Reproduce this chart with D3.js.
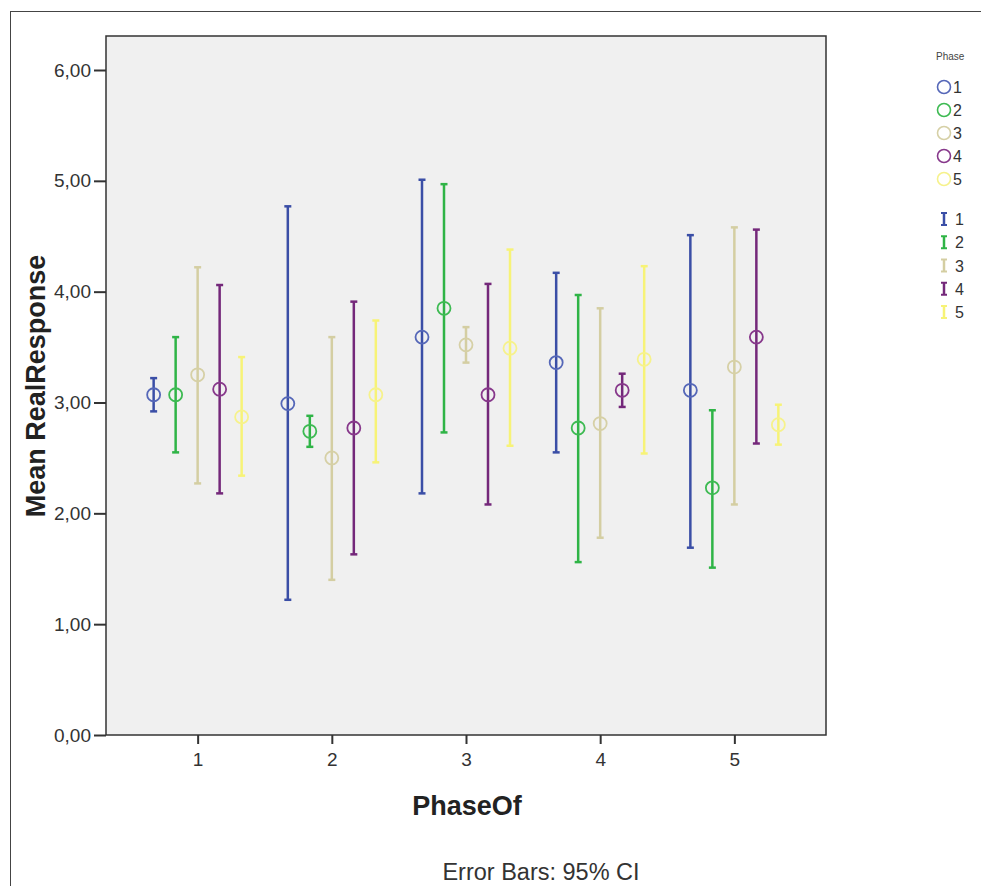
<!DOCTYPE html>
<html>
<head>
<meta charset="utf-8">
<script src="https://cdn.jsdelivr.net/npm/d3@7"></script>
<style>
  body { margin: 0; background: #fff; }
  svg { display: block; font-family: Arial, "Liberation Sans", sans-serif; }
</style>
</head>
<body>
<svg id="chart" width="981" height="886"></svg>
<script>
const categories = ["1", "2", "3", "4", "5"];
const seriesNames = ["1", "2", "3", "4", "5"];
const yTicks = [0, 1, 2, 3, 4, 5, 6];

// mean per series (rows) across categories PhaseOf 1..5 (columns)
const means1 = [3.07, 2.99, 3.59, 3.36, 3.11];
const means2 = [3.07, 2.74, 3.85, 2.77, 2.23];
const means3 = [3.25, 2.50, 3.52, 2.81, 3.32];
const means4 = [3.12, 2.77, 3.07, 3.11, 3.59];
const means5 = [2.87, 3.07, 3.49, 3.39, 2.80];

const upper1 = [3.22, 4.77, 5.01, 4.17, 4.51];
const upper2 = [3.59, 2.88, 4.97, 3.97, 2.93];
const upper3 = [4.22, 3.59, 3.68, 3.85, 4.58];
const upper4 = [4.06, 3.91, 4.07, 3.26, 4.56];
const upper5 = [3.41, 3.74, 4.38, 4.23, 2.98];

const lower1 = [2.92, 1.22, 2.18, 2.55, 1.69];
const lower2 = [2.55, 2.60, 2.73, 1.56, 1.51];
const lower3 = [2.27, 1.40, 3.36, 1.78, 2.08];
const lower4 = [2.18, 1.63, 2.08, 2.96, 2.63];
const lower5 = [2.34, 2.46, 2.61, 2.54, 2.62];

const meansAll = [means1, means2, means3, means4, means5];
const upperAll = [upper1, upper2, upper3, upper4, upper5];
const lowerAll = [lower1, lower2, lower3, lower4, lower5];

const barColors = ["#3a4ea6", "#2fb446", "#d4cea2", "#74287a", "#f7f377"];
const circleColors = ["#5567b8", "#3dba52", "#d6d0a6", "#87388b", "#f6f28c"];

const svg = d3.select("#chart");

// outer frame
svg.append("rect").attr("x", 10.5).attr("y", 11.5).attr("width", 1000).attr("height", 1000)
  .attr("fill", "none").attr("stroke", "#444").attr("stroke-width", 1);

const plot = { left: 106, top: 36, right: 826, bottom: 735 };

const x = d3.scalePoint().domain(categories).range([plot.left, plot.right]).padding(0.683);
const xInner = d3.scalePoint().domain(seriesNames).range([-44, 44]);
const y = d3.scaleLinear().domain([0, 6]).range([735, 70]);

svg.append("rect")
  .attr("x", plot.left).attr("y", plot.top)
  .attr("width", plot.right - plot.left).attr("height", plot.bottom - plot.top)
  .attr("fill", "#f0f0f0").attr("stroke", "#333").attr("stroke-width", 1.5);

// axes
const fmt = d => d3.format(".2f")(d).replace(".", ",");
const yAxis = svg.append("g").attr("transform", `translate(${plot.left},0)`)
  .call(d3.axisLeft(y).tickValues(yTicks).tickFormat(fmt).tickSize(12).tickPadding(3));
yAxis.select(".domain").remove();
yAxis.selectAll(".tick line").attr("stroke", "#333").attr("stroke-width", 2);
yAxis.selectAll("text").attr("font-size", 19).attr("fill", "#333");

const xAxis = svg.append("g").attr("transform", `translate(0,${plot.bottom})`)
  .call(d3.axisBottom(x).tickSize(9).tickPadding(9));
xAxis.select(".domain").remove();
xAxis.selectAll(".tick line").attr("stroke", "#333").attr("stroke-width", 2);
xAxis.selectAll("text").attr("font-size", 19).attr("fill", "#333");

// data marks
const points = [];
seriesNames.forEach((s, si) => {
  categories.forEach((c, ci) => {
    points.push({ s, si, c, mean: meansAll[si][ci], lo: lowerAll[si][ci], hi: upperAll[si][ci] });
  });
});

const g = svg.append("g");
const px = d => x(d.c) + xInner(d.s);

g.selectAll("line.bar").data(points).join("line").attr("class", "bar")
  .attr("x1", px).attr("x2", px)
  .attr("y1", d => y(d.hi)).attr("y2", d => y(d.lo))
  .attr("stroke", d => barColors[d.si]).attr("stroke-width", 2.5);

g.selectAll("line.capTop").data(points).join("line").attr("class", "capTop")
  .attr("x1", d => px(d) - 3.5).attr("x2", d => px(d) + 3.5)
  .attr("y1", d => y(d.hi)).attr("y2", d => y(d.hi))
  .attr("stroke", d => barColors[d.si]).attr("stroke-width", 2.5);

g.selectAll("line.capBot").data(points).join("line").attr("class", "capBot")
  .attr("x1", d => px(d) - 3.5).attr("x2", d => px(d) + 3.5)
  .attr("y1", d => y(d.lo)).attr("y2", d => y(d.lo))
  .attr("stroke", d => barColors[d.si]).attr("stroke-width", 2.5);

g.selectAll("circle.mean").data(points).join("circle").attr("class", "mean")
  .attr("cx", px).attr("cy", d => y(d.mean)).attr("r", 6.5)
  .attr("fill", "none").attr("stroke", d => circleColors[d.si]).attr("stroke-width", 1.8);

// axis titles
svg.append("text").attr("x", 467).attr("y", 815).attr("text-anchor", "middle")
  .attr("font-size", 27).attr("font-weight", "bold").attr("fill", "#222").text("PhaseOf");
svg.append("text").attr("transform", "translate(45,386) rotate(-90)").attr("text-anchor", "middle")
  .attr("font-size", 27).attr("font-weight", "bold").attr("fill", "#222").text("Mean RealResponse");
svg.append("text").attr("x", 541).attr("y", 880).attr("text-anchor", "middle")
  .attr("font-size", 23.5).attr("fill", "#333").text("Error Bars: 95% CI");

// legend
const leg = svg.append("g");
leg.append("text").attr("x", 936).attr("y", 60).attr("font-size", 10).attr("fill", "#444").text("Phase");
const circY = d3.scalePoint().domain(seriesNames).range([87, 179]);
const barY = d3.scalePoint().domain(seriesNames).range([219, 312]);
seriesNames.forEach((s, i) => {
  leg.append("circle").attr("cx", 944).attr("cy", circY(s)).attr("r", 6.5)
    .attr("fill", "none").attr("stroke", circleColors[i]).attr("stroke-width", 1.6);
  leg.append("text").attr("x", 953).attr("y", circY(s) + 6).attr("font-size", 16)
    .attr("fill", "#333").text(s);
  const by = barY(s);
  leg.append("line").attr("x1", 944).attr("x2", 944).attr("y1", by - 6).attr("y2", by + 6)
    .attr("stroke", barColors[i]).attr("stroke-width", 2.5);
  leg.append("line").attr("x1", 941).attr("x2", 947).attr("y1", by - 6).attr("y2", by - 6)
    .attr("stroke", barColors[i]).attr("stroke-width", 2);
  leg.append("line").attr("x1", 941).attr("x2", 947).attr("y1", by + 6).attr("y2", by + 6)
    .attr("stroke", barColors[i]).attr("stroke-width", 2);
  leg.append("text").attr("x", 955).attr("y", by + 6).attr("font-size", 16)
    .attr("fill", "#333").text(s);
});
</script>
</body>
</html>
